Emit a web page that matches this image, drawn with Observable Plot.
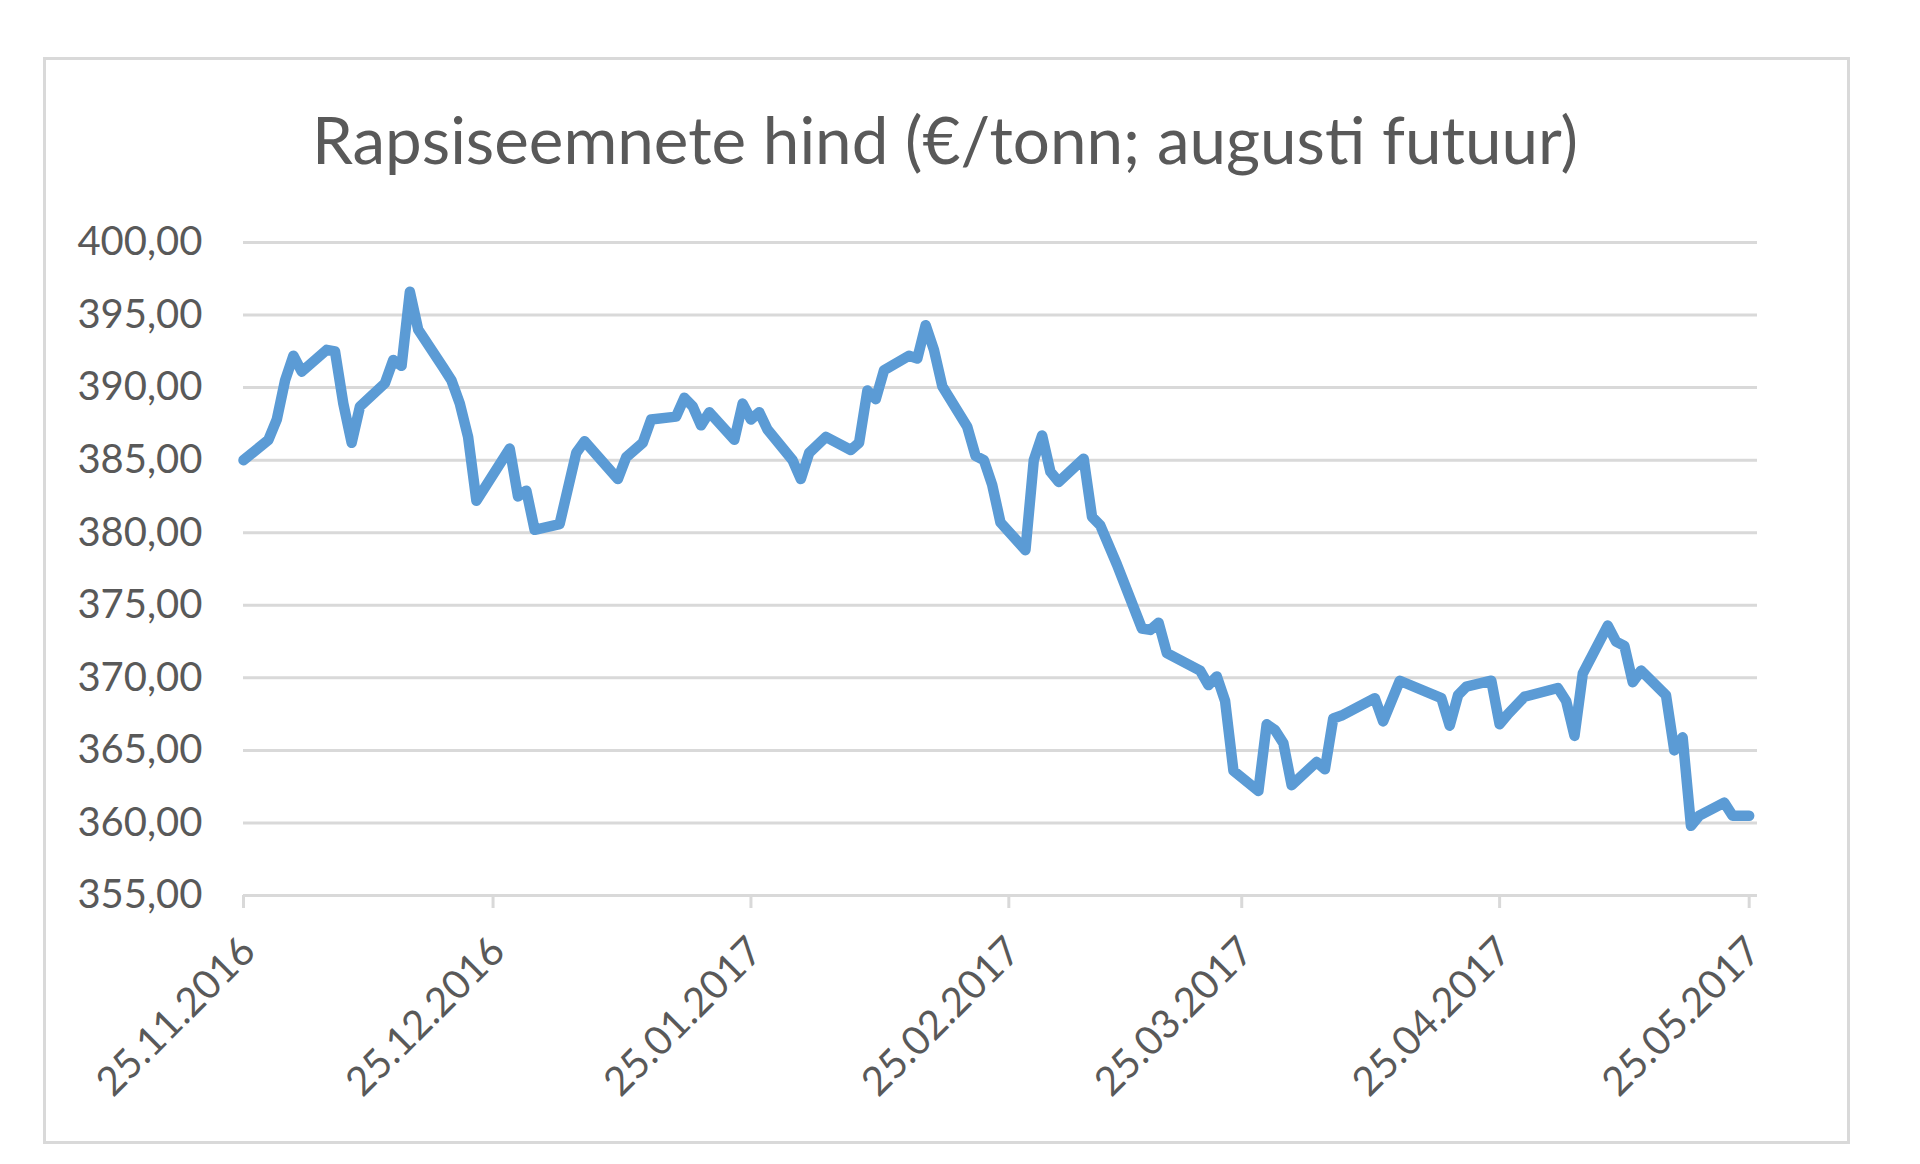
<!DOCTYPE html>
<html>
<head>
<meta charset="utf-8">
<script src="https://cdn.jsdelivr.net/npm/d3@7"></script>
<script src="https://cdn.jsdelivr.net/npm/@observablehq/plot@0.6"></script>
<style>
html, body { margin: 0; padding: 0; background: #ffffff; }
#wrap { position: relative; width: 1920px; height: 1164px; overflow: hidden; font-family: Lato, "Open Sans", sans-serif; }
#frame { position: absolute; left: 43px; top: 57px; width: 1801px; height: 1081px; border: 3px solid #d9d9d9; box-sizing: content-box; }
#title { position: absolute; left: 43px; width: 1804px; top: 106px; text-align: center; font-size: 65.5px; line-height: 1; color: #595959; white-space: nowrap; }
#chart { position: absolute; left: 0; top: 0; }
</style>
</head>
<body>
<div id="wrap">
  <div id="frame"></div>
  <div id="title">Rapsiseemnete hind (€/tonn; augusti futuur)</div>
  <div id="chart"></div>
</div>
<script>
// Trading dates and prices (€/t)
const dates = [
  "2016-11-25","2016-11-28","2016-11-29","2016-11-30","2016-12-01","2016-12-02",
  "2016-12-05","2016-12-06","2016-12-07","2016-12-08","2016-12-09",
  "2016-12-12","2016-12-13","2016-12-14","2016-12-15","2016-12-16",
  "2016-12-19","2016-12-20","2016-12-21","2016-12-22","2016-12-23",
  "2016-12-27","2016-12-28","2016-12-29","2016-12-30",
  "2017-01-02","2017-01-04","2017-01-05",
  "2017-01-09","2017-01-10","2017-01-12","2017-01-13",
  "2017-01-16","2017-01-17","2017-01-18","2017-01-19","2017-01-20",
  "2017-01-23","2017-01-24","2017-01-25","2017-01-26","2017-01-27",
  "2017-01-30","2017-01-31","2017-02-01","2017-02-03",
  "2017-02-06","2017-02-07","2017-02-08","2017-02-09","2017-02-10",
  "2017-02-13","2017-02-14","2017-02-15","2017-02-16","2017-02-17",
  "2017-02-20","2017-02-21","2017-02-22","2017-02-23","2017-02-24",
  "2017-02-27","2017-02-28","2017-03-01","2017-03-02","2017-03-03",
  "2017-03-06","2017-03-07","2017-03-08","2017-03-10",
  "2017-03-13","2017-03-14","2017-03-15","2017-03-16",
  "2017-03-20","2017-03-21","2017-03-22","2017-03-23","2017-03-24",
  "2017-03-27","2017-03-28","2017-03-29","2017-03-30","2017-03-31",
  "2017-04-03","2017-04-04","2017-04-05","2017-04-06",
  "2017-04-10","2017-04-11","2017-04-13",
  "2017-04-18","2017-04-19","2017-04-20","2017-04-21",
  "2017-04-24","2017-04-25","2017-04-26","2017-04-28",
  "2017-05-02","2017-05-03","2017-05-04","2017-05-05",
  "2017-05-08","2017-05-09","2017-05-10","2017-05-11","2017-05-12",
  "2017-05-15","2017-05-16","2017-05-17","2017-05-18","2017-05-19",
  "2017-05-22","2017-05-23","2017-05-24","2017-05-25"
];
const prices = [
  385.0,386.4,387.8,390.5,392.2,391.1,
  392.6,392.5,388.9,386.2,388.7,
  390.3,391.9,391.5,396.6,394.0,
  391.4,390.5,388.9,386.6,382.2,
  385.8,382.5,382.9,380.2,
  380.6,385.5,386.3,
  383.7,385.2,386.2,387.8,
  388.0,389.3,388.7,387.4,388.3,
  386.4,388.9,387.8,388.3,387.1,
  385.0,383.7,385.5,386.6,
  385.7,386.2,389.8,389.2,391.2,
  392.2,392.0,394.3,392.6,390.1,
  387.3,385.3,385.0,383.3,380.7,
  378.8,385.0,386.7,384.2,383.5,
  385.1,381.1,380.5,377.8,
  373.4,373.3,373.8,371.7,
  370.5,369.5,370.1,368.4,363.6,
  362.2,366.8,366.4,365.5,362.6,
  364.2,363.7,367.2,367.4,
  368.6,367.0,369.8,
  368.6,366.7,368.8,369.4,
  369.8,366.8,367.5,368.7,
  369.3,368.4,366.0,370.3,
  373.6,372.5,372.2,369.7,370.5,
  368.8,365.0,365.9,359.8,360.5,
  361.4,360.5,360.5,360.5
];
const yTicks = [355, 360, 365, 370, 375, 380, 385, 390, 395, 400];
const xTickDates = ["2016-11-25","2016-12-25","2017-01-25","2017-02-25","2017-03-25","2017-04-25","2017-05-25"];
const xDomain = ["2016-11-25", "2017-05-26"];

const parse = d3.utcParse("%Y-%m-%d");
const fmtDate = d3.utcFormat("%d.%m.%Y");
const data = dates.map((d, i) => ({date: parse(d), value: prices[i]}));
const xTicks = xTickDates.map(parse);

const chart = Plot.plot({
  width: 1920,
  height: 1164,
  marginLeft: 243,
  marginRight: 163,
  marginTop: 242,
  marginBottom: 269,
  style: {fontFamily: "Lato, 'Open Sans', sans-serif", fontSize: "40px", color: "#595959", background: "transparent", overflow: "visible"},
  x: {type: "utc", domain: xDomain.map(parse)},
  y: {domain: [355, 400]},
  marks: [
    Plot.ruleY(yTicks, {stroke: "#d9d9d9", strokeWidth: 3}),
    Plot.axisY({ticks: yTicks, tickFormat: d => d.toFixed(2).replace(".", ","), tickSize: 0, tickPadding: 41, fill: "#595959", label: null}),
    Plot.axisX({ticks: xTicks, tickFormat: () => "", tickSize: 13, stroke: "#d9d9d9", strokeWidth: 3, label: null}),
    Plot.axisX({ticks: xTicks, tickFormat: fmtDate, tickSize: 0, tickPadding: 49, tickRotate: -45, dx: 5, fill: "#595959", label: null}),
    Plot.lineY(data, {x: "date", y: "value", stroke: "#5b9bd5", strokeWidth: 10.5, strokeLinejoin: "round", strokeLinecap: "round", curve: "linear"})
  ]
});
document.getElementById("chart").appendChild(chart);
</script>
</body>
</html>
